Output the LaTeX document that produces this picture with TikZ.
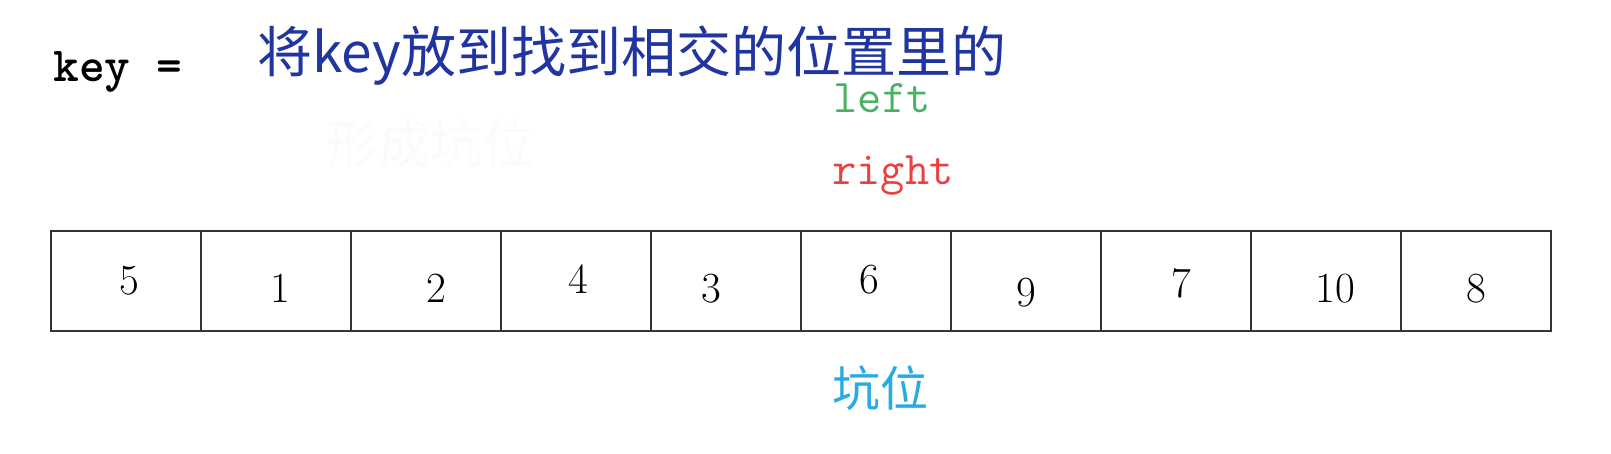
\documentclass[tikz,border=0pt]{standalone}
\usepackage{fontspec}
\newfontfamily\cjk{Noto Sans CJK SC}
\usetikzlibrary{calc}
\definecolor{headblue}{RGB}{33,53,161}
\definecolor{leftgreen}{RGB}{72,178,98}
\definecolor{rightred}{RGB}{236,64,64}
\definecolor{pitcyan}{RGB}{40,170,226}

\begin{document}
\begin{tikzpicture}[x=0.5pt,y=-0.5pt,
	cellbox/.style={draw=black!80, line width=1pt, minimum width=75pt, minimum height=50pt, inner sep=0pt},
	numtext/.style={font=\fontsize{21.5}{21.5}\selectfont, inner sep=0pt},
	monotext/.style={font=\ttfamily\fontsize{23.5}{23.5}\selectfont, inner sep=0pt}]
	\useasboundingbox (0,0) rectangle (1611,454);

	%title line
	\node[monotext, font=\ttfamily\bfseries\fontsize{24.5}{24.5}\selectfont, anchor=base west] (key) at (53,82) {key =};
	\node[headblue, font=\cjk\fontsize{27.5}{27.5}\selectfont, anchor=west, inner sep=0pt] (title) at (257,56) {将key放到找到相交的位置里的};
	\node[black!1.5, font=\cjk\fontsize{26}{26}\selectfont, inner sep=0pt] (ghost) at (430,144) {形成坑位};

	%pointers
	\node[monotext, leftgreen, anchor=base] (left) at (882,113) {left};
	\node[monotext, rightred, anchor=base] (right) at (893,185) {right};

	%array cells and values
	\foreach \v/\dx/\dy [count=\i] in {5/3.5/-0.5, 1/4.5/7.7, 2/10.6/7.7, 4/2.4/-1.5, 3/-15/7.7,
		6/-7/-1.5, 9/0/11.8, 7/5/2.6, 10/9.6/7.7, 8/0/7.7} {
		\node[cellbox] (cell\i) at (150*\i-24,281) {};
		\node[numtext] (num\i) at ($(cell\i.center)+(\dx,\dy)$) {\v};
	}

	%pit label
	\node[pitcyan, font=\cjk\fontsize{24}{24}\selectfont, inner sep=0pt] (pit) at (880,388) {坑位};
\end{tikzpicture}
\end{document}
